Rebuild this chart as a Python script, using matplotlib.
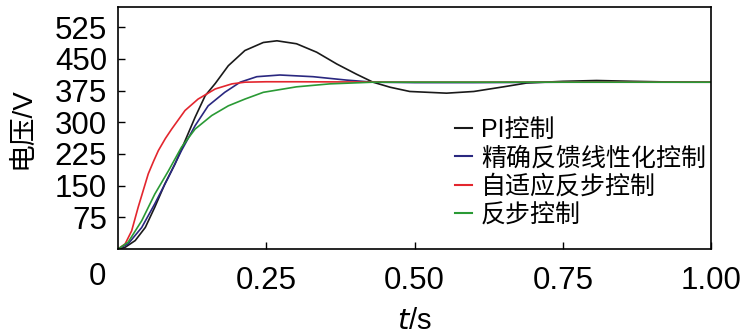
import matplotlib
matplotlib.use('Agg')
import matplotlib.pyplot as plt

plt.rcParams['font.family'] = ['Liberation Sans', 'Noto Sans CJK SC']

# PI control
t_pi = [0, 0.012, 0.029, 0.046, 0.062, 0.079, 0.096, 0.113, 0.130, 0.147, 0.164, 0.186,
        0.214, 0.245, 0.268, 0.301, 0.335, 0.369, 0.402, 0.43, 0.459, 0.492, 0.554, 0.6,
        0.65, 0.689, 0.75, 0.807, 0.87, 0.948, 1.0]
v_pi = [0, 4, 20, 51, 99, 154, 201, 256, 312, 363, 392, 434,
        470, 489, 493, 486, 466, 438, 414, 395, 383, 373, 369, 373,
        384, 393, 397, 399, 397, 395, 395]

# exact feedback linearization
t_fl = [0, 0.017, 0.04, 0.062, 0.085, 0.107, 0.13, 0.152, 0.18, 0.206, 0.234, 0.273,
        0.329, 0.385, 0.43, 0.5, 0.6, 0.75, 0.9, 1.0]
v_fl = [0, 12, 51, 107, 170, 233, 292, 339, 371, 395, 408, 412,
        408, 400, 395, 394, 394, 395, 395, 395]

# adaptive backstepping
t_ab = [0, 0.012, 0.023, 0.034, 0.051, 0.06, 0.068, 0.08, 0.0905, 0.113, 0.135, 0.164,
        0.192, 0.214, 0.25, 0.3, 0.5, 1.0]
v_ab = [0, 12, 43, 99, 178, 208, 233, 262, 284, 328, 355, 379,
        391, 395, 396, 396, 395, 395]

# backstepping
t_bs = [0, 0.017, 0.04, 0.062, 0.085, 0.107, 0.13, 0.158, 0.186, 0.214, 0.245, 0.301,
        0.357, 0.43, 0.5, 1.0]
v_bs = [0, 16, 67, 130, 185, 241, 284, 316, 339, 355, 371, 384,
        391, 395, 395, 395]

labels = ['PI控制', '精确反馈线性化控制', '自适应反步控制', '反步控制']
colors = ['#1a1a1a', '#2a2880', '#e3262e', '#2a9a35']
yticks = [75, 150, 225, 300, 375, 450, 525]
xticks = [0.25, 0.50, 0.75, 1.00]

fig = plt.figure(figsize=(7.46, 3.34), dpi=100)
ax = fig.add_axes([0.1582, 0.2545, 0.7949, 0.7245])

series = [(t_pi, v_pi), (t_fl, v_fl), (t_ab, v_ab), (t_bs, v_bs)]
for (t, v), lab, c in zip(series, labels, colors):
    ax.plot(t, v, color=c, lw=1.2, label=lab)

ax.set_xlim(0, 1.0)
ax.set_ylim(0, 573)
ax.set_yticks(yticks)
ax.set_xticks(xticks)
ax.set_xticklabels(['%.2f' % x for x in xticks])
ax.tick_params(axis='both', direction='in', length=5, width=1, labelsize=22.5)
ax.tick_params(axis='x', pad=12)
ax.tick_params(axis='y', pad=8)
for s in ax.spines.values():
    s.set_linewidth(1.2)

fig.text(97 / 746, 1 - 277 / 334, '0', fontsize=22.5, ha='center', va='center')
ax.set_ylabel('电压/V', fontsize=20, labelpad=14)
ax.set_xlabel(r'$\it{t}$/s', fontsize=21, labelpad=8)

leg = ax.legend(loc='upper left', bbox_to_anchor=(0.568, 0.543), frameon=False,
                fontsize=18, handlelength=0.7, handletextpad=0.35, labelspacing=0.18,
                borderpad=0, borderaxespad=0)
for h in leg.get_lines():
    h.set_linewidth(1.5)

fig.savefig('out.png', dpi=100)
